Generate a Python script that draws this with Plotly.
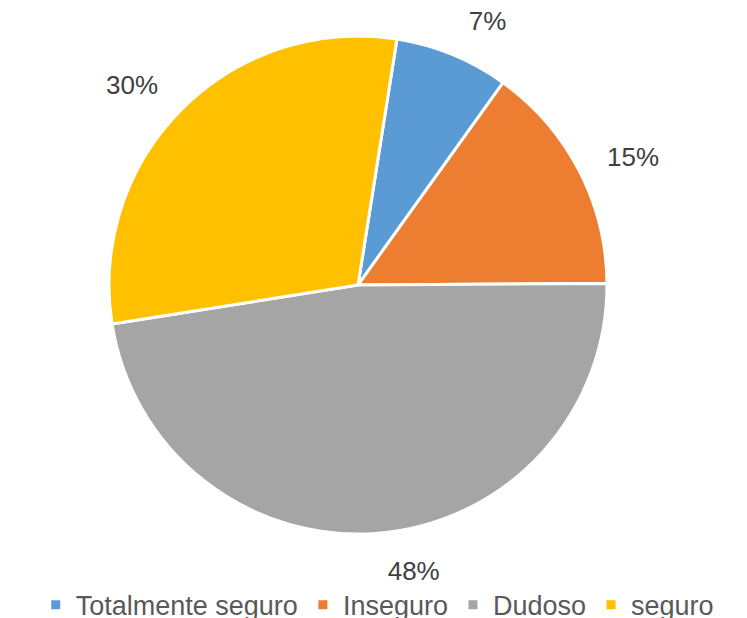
import plotly.graph_objects as go

categories = ["Totalmente seguro", "Inseguro", "Dudoso", "seguro"]
values = [7.4, 15.0, 47.6, 30.0]
colors = ["#5B9BD5", "#ED7D31", "#A5A5A5", "#FFC000"]

fig = go.Figure()
fig.add_trace(go.Pie(
    labels=categories, values=values, sort=False, direction="clockwise", rotation=9,
    marker=dict(colors=colors, line=dict(color="white", width=3)),
    textinfo="none", hoverinfo="label+percent",
    domain=dict(x=[0.1459, 0.8126], y=[0.1359, 0.9417]),
    showlegend=True,
))
# label ring (transparent) to place percentage labels slightly outside the pie
fig.add_trace(go.Pie(
    labels=categories, values=values, sort=False, direction="clockwise", rotation=9,
    marker=dict(colors=["rgba(0,0,0,0)"] * 4, line=dict(width=0)),
    textinfo="percent", textposition="outside", texttemplate="%{percent:.0%}",
    outsidetextfont=dict(family="Liberation Sans, Arial", size=26, color="#404040"),
    domain=dict(x=[0.1151, 0.8434], y=[0.0987, 0.9790]),
    showlegend=False, hoverinfo="skip",
))
fig.update_layout(
    width=747, height=618,
    margin=dict(l=0, r=0, t=0, b=0, pad=0, autoexpand=False),
    paper_bgcolor="white", plot_bgcolor="white",
    font=dict(family="Liberation Sans, Arial", color="#595959"),
    legend=dict(orientation="h", x=0.505, xanchor="center", y=-0.019, yanchor="bottom",
                bgcolor="rgba(0,0,0,0)", tracegroupgap=0,
                font=dict(size=27, color="#595959"), traceorder="normal"),
)
fig.write_html("out.html", config={"displayModeBar": False},
               post_script="document.body.style.margin='0';document.body.style.overflow='hidden';")
